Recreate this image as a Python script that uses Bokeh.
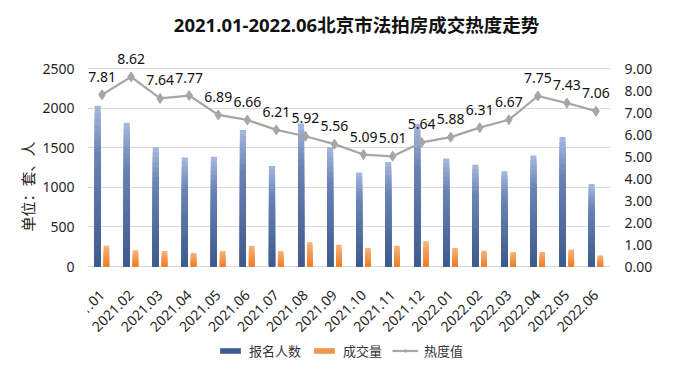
import math
from bokeh.plotting import figure
from bokeh.models import (FactorRange, Range1d, LinearAxis, Legend, LegendItem,
                          ColumnDataSource, FixedTicker, NumeralTickFormatter,
                          Label, LabelSet, Title)
from bokeh.transform import dodge
from bokeh.core.properties import value
from bokeh.embed import file_html
from bokeh.resources import INLINE

months = ["2021.01", "2021.02", "2021.03", "2021.04", "2021.05", "2021.06",
          "2021.07", "2021.08", "2021.09", "2021.10", "2021.11", "2021.12",
          "2022.01", "2022.02", "2022.03", "2022.04", "2022.05", "2022.06"]
signups = [2030, 1815, 1505, 1375, 1385, 1722, 1268, 1805, 1508,
           1186, 1318, 1801, 1364, 1284, 1203, 1402, 1636, 1042]
deals = [262, 204, 195, 172, 195, 262, 195, 305, 275,
         233, 263, 318, 233, 199, 182, 182, 216, 140]
heat = [7.81, 8.62, 7.64, 7.77, 6.89, 6.66, 6.21, 5.92, 5.56,
        5.09, 5.01, 5.64, 5.88, 6.31, 6.67, 7.75, 7.43, 7.06]
left_ticks = [0, 500, 1000, 1500, 2000, 2500]
right_ticks = [0, 1, 2, 3, 4, 5, 6, 7, 8, 9]

title_text = "2021.01-2022.06北京市法拍房成交热度走势"
y_label = "单位：套、人"
series_names = ["报名人数", "成交量", "热度值"]

FONT = "Noto Sans, Noto Sans CJK SC"
TXT = "#1f1f1f"

# layout constants (pixels)
W, H = 700, 372
LEFT, RIGHT = 87, 90
FRAME_W = W - LEFT - RIGHT
PLOT_TOP, PLOT_BOTTOM = 68, 266          # where the 0..2500 scale lies on the page
PLOT_H = PLOT_BOTTOM - PLOT_TOP
above_px, below_px = PLOT_TOP, H - PLOT_BOTTOM
ly0 = -left_ticks[-1] * below_px / PLOT_H
ly1 = left_ticks[-1] * (PLOT_H + above_px) / PLOT_H
ry0 = -right_ticks[-1] * below_px / PLOT_H
ry1 = right_ticks[-1] * (PLOT_H + above_px) / PLOT_H


def hex2rgb(h):
    h = h.lstrip("#")
    return tuple(int(h[i:i + 2], 16) for i in (0, 2, 4))


def grad(stops, t):
    for (t0, c0), (t1, c1) in zip(stops, stops[1:]):
        if t0 <= t <= t1:
            f = (t - t0) / (t1 - t0) if t1 > t0 else 0
            a, b = hex2rgb(c0), hex2rgb(c1)
            return "#%02x%02x%02x" % tuple(round(a[i] + (b[i] - a[i]) * f) for i in range(3))
    return stops[-1][1]


blue_stops = [(0.0, "#a6b9de"), (0.3, "#6983b5"), (1.0, "#3d5a8d")]
orange_stops = [(0.0, "#f8b47c"), (1.0, "#ed7b22")]

p = figure(frame_width=FRAME_W, frame_height=H,
           x_range=FactorRange(*months, range_padding=0),
           y_range=Range1d(ly0, ly1),
           output_backend="svg", toolbar_location=None,
           min_border_left=LEFT, min_border_right=RIGHT,
           min_border_top=0, min_border_bottom=0)
p.extra_y_ranges = {"heat": Range1d(ry0, ry1)}

p.outline_line_color = None
p.background_fill_color = "white"
p.xgrid.visible = False
p.ygrid.grid_line_color = "#d9d9d9"
p.ygrid.grid_line_width = 1.2

ya = p.yaxis[0]
ya.ticker = FixedTicker(ticks=left_ticks)
ra = LinearAxis(y_range_name="heat", ticker=FixedTicker(ticks=right_ticks),
                formatter=NumeralTickFormatter(format="0.00"))
p.add_layout(ra, "right")

xa = p.xaxis[0]
xa.fixed_location = 0
for ax in [ya, ra, xa]:
    ax.axis_line_color = None
    ax.major_tick_line_color = None
    ax.minor_tick_line_color = None
    ax.major_label_text_font = FONT
    ax.major_label_text_font_size = "14px"
    ax.major_label_text_color = TXT
ya.major_label_standoff = 7
ra.major_label_standoff = 8
xa.major_label_orientation = math.pi / 4
xa.major_label_standoff = 20

p.add_layout(Title(text=y_label, align="center", offset=15, text_font=FONT,
                   text_font_size="15px", text_font_style="normal",
                   text_color=TXT, standoff=3), "left")

p.add_layout(Label(x=269, y=H - 24, x_units="screen", y_units="screen",
                   text=title_text, text_align="center", text_baseline="middle",
                   text_font=FONT, text_font_size="18.5px", text_font_style="bold",
                   text_color="#111111"))

# gradient bars: stacked layers, tallest (lightest top) first
N = 24
blue_r = None
for k in range(N):
    frac = 1 - k / N
    src = ColumnDataSource(dict(m=months, top=[v * frac for v in signups]))
    blue_r = p.vbar(x=dodge("m", -0.15, range=p.x_range), top="top", bottom=0, width=0.21,
                    source=src, fill_color=grad(blue_stops, (k + 0.5) / N), line_color=None)

NO = 8
orange_r = None
for k in range(NO):
    frac = 1 - k / NO
    src = ColumnDataSource(dict(m=months, top=[v * frac for v in deals]))
    r = p.vbar(x=dodge("m", 0.15, range=p.x_range), top="top", bottom=0, width=0.19,
               source=src, fill_color=grad(orange_stops, (k + 0.5) / NO), line_color=None)
    if k == NO // 2:
        orange_r = r

hsrc = ColumnDataSource(dict(m=months, h=heat, lbl=["%.2f" % v for v in heat]))
line_r = p.line(x="m", y="h", source=hsrc, y_range_name="heat",
                line_color="#a6a6a6", line_width=2.25)
pts_r = p.scatter(x="m", y="h", source=hsrc, y_range_name="heat", marker="diamond",
                  size=10, fill_color="#a6a6a6", line_color="#a6a6a6")
p.add_layout(LabelSet(x="m", y="h", text="lbl", source=hsrc, y_range_name="heat",
                      text_align="center", text_baseline="bottom", y_offset=13,
                      text_font=value(FONT), text_font_size="14px", text_color="#111111"))

legend = Legend(items=[LegendItem(label=series_names[0], renderers=[blue_r]),
                       LegendItem(label=series_names[1], renderers=[orange_r]),
                       LegendItem(label=series_names[2], renderers=[line_r, pts_r])],
                orientation="horizontal", location=(130, 12),
                glyph_width=26, glyph_height=7, label_text_font=FONT,
                label_text_font_size="13px", label_text_color="#333333",
                label_height=16, spacing=10, label_standoff=6, border_line_color=None,
                background_fill_alpha=0, padding=0, margin=0)
p.add_layout(legend, "center")

open("out.html", "w").write(file_html(p, INLINE))
